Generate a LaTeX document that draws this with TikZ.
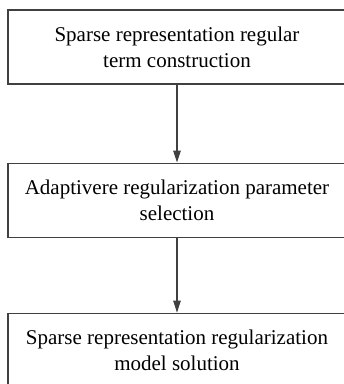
\documentclass[tikz,border=0pt]{standalone}
\usepackage{fontspec}
\setmainfont{Liberation Serif}
\usetikzlibrary{arrows.meta}
\usetikzlibrary{positioning}
\begin{document}
\begin{tikzpicture}[x=1pt,y=-1pt,
    stagebox/.style={draw=black!75, line width=1.1pt, minimum width=338pt, minimum height=74pt, align=center, inner sep=0pt, font=\fontsize{21}{26}\selectfont},
    flow/.style={draw=black!75, line width=1.1pt, -{Triangle[length=12pt,width=7.5pt]}}]
            \useasboundingbox (0,0) rectangle (344,384);
            \clip (0,0) rectangle (344,384);
            \node[stagebox] (R) at (177,47) {Sparse representation regular\\term construction};
            \node[stagebox, below=78pt of R] (A) {Adaptivere regularization parameter\\selection};
            \node[stagebox, below=75pt of A] (M) {Sparse representation regularization\\model solution};
            \draw[flow] (R) -- (A);
            \draw[flow] (A) -- (M);
        \end{tikzpicture}
\end{document}
